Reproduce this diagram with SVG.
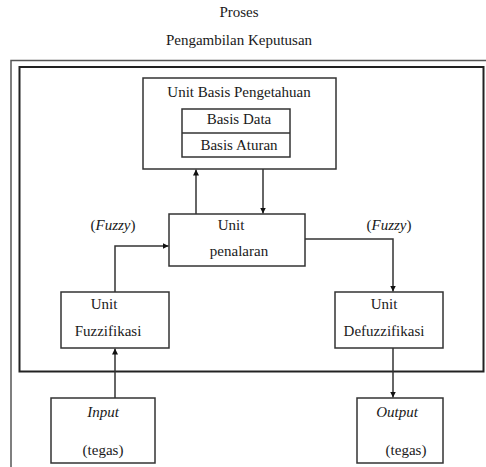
<svg xmlns="http://www.w3.org/2000/svg" width="486" height="467" viewBox="0 0 486 467">
<style>
text{font-family:'Liberation Serif','DejaVu Serif',serif;font-size:15px;fill:#1a1a1a;text-anchor:middle}
.i{font-style:italic}
.box{fill:#fff;stroke:#333;stroke-width:1.5}
.ln{fill:none;stroke:#333;stroke-width:1.5}
</style>
<defs>
<marker id="ah" markerWidth="6" markerHeight="6" refX="6" refY="3" orient="auto" markerUnits="userSpaceOnUse">
<path d="M0,0 L6,3 L0,6 Z" fill="#111"/>
</marker>
</defs>
<rect width="486" height="467" fill="#fff"/>
<g id="title" font-family="Liberation Serif">
<text x="239" y="17">Proses</text>
<text x="239" y="45">Pengambilan Keputusan</text>
</g>
<g id="frame">
<path d="M11,467 V60.5 H486" fill="none" stroke="#555" stroke-width="1.5"/>
<rect x="19.5" y="67" width="464" height="304.5" fill="none" stroke="#222" stroke-width="2"/>
</g>
<g id="basis">
<rect class="box" x="143" y="78" width="193" height="91"/>
<text x="239" y="97">Unit Basis Pengetahuan</text>
<rect class="box" x="182" y="109" width="108" height="48"/>
<line class="ln" x1="182" y1="133" x2="290" y2="133"/>
<text x="239" y="124">Basis Data</text>
<text x="239" y="150">Basis Aturan</text>
</g>
<g id="penalaran">
<rect class="box" x="169" y="214" width="136" height="52"/>
<text x="231" y="230">Unit</text>
<text x="239" y="256">penalaran</text>
</g>
<g id="fuzzifikasi">
<rect class="box" x="61" y="292" width="108" height="56"/>
<text x="104" y="309">Unit</text>
<text x="108" y="336">Fuzzifikasi</text>
</g>
<g id="defuzzifikasi">
<rect class="box" x="335" y="292" width="108" height="56"/>
<text x="384" y="309">Unit</text>
<text x="384" y="336">Defuzzifikasi</text>
</g>
<g id="input">
<rect class="box" x="51" y="398" width="104" height="65"/>
<text x="103" y="417" class="i">Input</text>
<text x="103" y="455">(tegas)</text>
</g>
<g id="output">
<rect class="box" x="357" y="398" width="86" height="65"/>
<text x="397" y="417" class="i">Output</text>
<text x="406" y="455">(tegas)</text>
</g>
<g id="labels">
<text x="113" y="230">(<tspan class="i">Fuzzy</tspan>)</text>
<text x="389" y="230">(<tspan class="i">Fuzzy</tspan>)</text>
</g>
<g id="connectors">
<line class="ln" x1="196" y1="214" x2="196" y2="169.5" marker-end="url(#ah)"/>
<line class="ln" x1="263" y1="169" x2="263" y2="213.5" marker-end="url(#ah)"/>
<path class="ln" d="M115,292 V246 H168.5" marker-end="url(#ah)"/>
<path class="ln" d="M305,239 H393 V291.5" marker-end="url(#ah)"/>
<line class="ln" x1="115" y1="398" x2="115" y2="348.5" marker-end="url(#ah)"/>
<line class="ln" x1="393" y1="348" x2="393" y2="397.5" marker-end="url(#ah)"/>
</g>
</svg>
